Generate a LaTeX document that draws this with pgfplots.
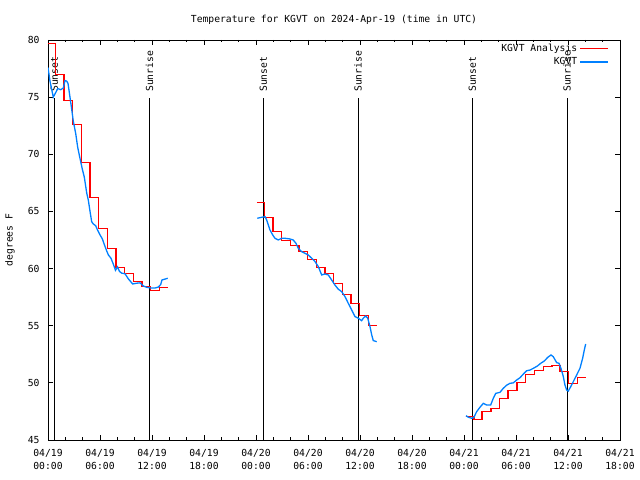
\documentclass[border=0pt]{standalone}
\usepackage{pgfplots}
\pgfplotsset{compat=1.18}
\usepackage{fontspec}
\setmainfont{DejaVu Sans Mono}
\definecolor{obsblue}{RGB}{0,128,255}
\definecolor{anared}{RGB}{255,0,0}
\begin{document}
\fontsize{9.7bp}{13bp}\selectfont
\begin{tikzpicture}
\path[use as bounding box] (0,0) rectangle (640bp,480bp);
\begin{axis}[
  at={(48bp,40bp)}, anchor=south west,
  scale only axis, width=572bp, height=400bp,
  xmin=0, xmax=66, ymin=45, ymax=80,
  xtick={0,6,...,66},
  xticklabels={{04/19\\00:00},{04/19\\06:00},{04/19\\12:00},{04/19\\18:00},{04/20\\00:00},{04/20\\06:00},{04/20\\12:00},{04/20\\18:00},{04/21\\00:00},{04/21\\06:00},{04/21\\12:00},{04/21\\18:00}},
  minor x tick num=2,
  ytick={45,50,...,80},
  tick align=inside,
  major tick length=5bp, minor tick length=2.5bp,
  tick style={black, line width=0.8bp},
  axis line style={line width=0.8bp},
  xticklabel style={align=center, yshift=-6bp},
  yticklabel style={xshift=-5bp},
  /pgf/number format/assume math mode=true,
  title={Temperature for KGVT on 2024-Apr-19 (time in UTC)},
  title style={at={(axis description cs:0.5,1)}, anchor=base, yshift=12bp},
  ylabel={degrees F},
  ylabel style={at={(axis description cs:-0.0664,0.5)}, anchor=center},
  legend cell align=right,
  legend plot pos=right,
  legend image code/.code={\draw[#1, line width=1.6bp] (0bp,0bp) -- (28bp,0bp);},
  legend style={draw=none, fill=none, at={(axis description cs:1,1)}, anchor=north east,
    xshift=-8bp, yshift=0bp, row sep=0.5bp, nodes={inner sep=2bp}},
]
% sunrise / sunset lines
\addplot[black, line width=0.9bp, forget plot] coordinates {(0.73,45) (0.73,74.93)};
\addplot[black, line width=0.9bp, forget plot] coordinates {(11.72,45) (11.72,74.93)};
\addplot[black, line width=0.9bp, forget plot] coordinates {(24.85,45) (24.85,74.93)};
\addplot[black, line width=0.9bp, forget plot] coordinates {(35.78,45) (35.78,74.93)};
\addplot[black, line width=0.9bp, forget plot] coordinates {(48.95,45) (48.95,74.93)};
\addplot[black, line width=0.9bp, forget plot] coordinates {(59.9,45) (59.9,74.93)};
\node[rotate=90, anchor=west, inner sep=0pt] at (axis cs:0.73,75.45) {Sunset};
\node[rotate=90, anchor=west, inner sep=0pt] at (axis cs:11.72,75.45) {Sunrise};
\node[rotate=90, anchor=west, inner sep=0pt] at (axis cs:24.85,75.45) {Sunset};
\node[rotate=90, anchor=west, inner sep=0pt] at (axis cs:35.78,75.45) {Sunrise};
\node[rotate=90, anchor=west, inner sep=0pt] at (axis cs:48.95,75.45) {Sunset};
\node[rotate=90, anchor=west, inner sep=0pt] at (axis cs:59.9,75.45) {Sunrise};
% KGVT Analysis (hourly, stepped)
\addplot[anared, line width=1.4bp] coordinates {
(0,79.694) (0.85,79.694) (0.85,76.981) (1.85,76.981) (1.85,74.706) (2.85,74.706)
(2.85,72.606) (3.85,72.606) (3.85,69.281) (4.85,69.281) (4.85,66.219) (5.85,66.219)
(5.85,63.506) (6.85,63.506) (6.85,61.756) (7.85,61.756) (7.85,60.094) (8.85,60.094)
(8.85,59.569) (9.85,59.569) (9.85,58.869) (10.85,58.869) (10.85,58.431) (11.85,58.431)
(11.85,58.081) (12.85,58.081) (12.85,58.344) (13.85,58.344)};
\addlegendentry{KGVT Analysis}
% KGVT observations
\addplot[obsblue, line width=1.3bp] coordinates {
(0,77.6) (0.23,76.4) (0.61,75.0) (0.89,75.4) (1.12,75.75) (1.47,75.65) (1.77,75.8)
(1.96,76.45) (2.16,76.4) (2.31,76.2) (2.46,75.4) (2.65,74.4) (2.92,72.9) (3.2,71.8)
(3.43,70.6) (3.69,69.65) (3.96,68.7) (4.19,68.0) (4.47,66.6) (4.65,66.0) (4.85,65.0)
(5.04,64.1) (5.23,63.9) (5.5,63.75) (5.73,63.35) (6.0,62.95) (6.27,62.6) (6.5,62.1)
(6.77,61.55) (6.96,61.2) (7.27,60.9) (7.53,60.4) (7.79,59.85) (8.02,60.15) (8.25,59.75)
(8.5,59.6) (8.88,59.55) (9.27,59.1) (9.77,58.65) (10.23,58.72) (10.62,58.75) (11.0,58.48)
(11.39,58.36) (11.85,58.3) (12.35,58.3) (12.73,58.38) (13.0,58.6) (13.15,59.0)
(13.5,59.08) (13.81,59.15)};
\addlegendentry{KGVT}
\addplot[anared, line width=1.4bp, forget plot] coordinates {
(24.1,65.781) (24.95,65.781) (24.95,64.469) (25.95,64.469) (25.95,63.244) (26.95,63.244)
(26.95,62.456) (27.95,62.456) (27.95,62.019) (28.95,62.019) (28.95,61.494) (29.95,61.494)
(29.95,60.794) (30.95,60.794) (30.95,60.094) (31.95,60.094) (31.95,59.569) (32.95,59.569)
(32.95,58.694) (33.95,58.694) (33.95,57.731) (34.95,57.731) (34.95,56.944) (35.95,56.944)
(35.95,55.894) (36.95,55.894) (36.95,55.019) (37.95,55.019)};
\addplot[anared, line width=1.4bp, forget plot] coordinates {
(48.2,47.056) (49.15,47.056) (49.15,46.794) (50.1,46.794) (50.1,47.494) (51.1,47.494)
(51.1,47.756) (52.1,47.756) (52.1,48.631) (53.1,48.631) (53.1,49.331) (54.1,49.331)
(54.1,50.031) (55.1,50.031) (55.1,50.731) (56.15,50.731) (56.15,51.081) (57.2,51.081)
(57.2,51.431) (58.15,51.431) (58.15,51.519) (59.1,51.519) (59.1,50.994) (60.05,50.994)
(60.05,49.944) (61.1,49.944) (61.1,50.469) (62.05,50.469)};
\addplot[obsblue, line width=1.3bp, forget plot] coordinates {
(24.15,64.4) (24.66,64.49) (25.04,64.54) (25.23,64.25) (25.42,63.82) (25.61,63.38)
(25.93,62.94) (26.19,62.65) (26.57,62.5) (26.96,62.65) (27.35,62.65) (27.92,62.59)
(28.3,62.5) (28.61,62.21) (28.88,61.78) (29.27,61.48) (29.65,61.34) (30.03,61.19)
(30.43,60.9) (30.81,60.61) (31.19,60.17) (31.58,59.44) (31.96,59.53) (32.34,59.44)
(32.73,59.0) (33.11,58.56) (33.5,58.19) (33.89,57.98) (34.27,57.54) (34.65,56.96)
(35.04,56.38) (35.42,55.8) (35.8,55.66) (36.19,55.44) (36.38,55.66) (36.66,55.85)
(36.89,55.66) (37.15,54.93) (37.35,54.2) (37.53,53.7) (37.93,53.6)};
\addplot[obsblue, line width=1.3bp, forget plot] coordinates {
(48.23,47.13) (48.5,46.99) (48.89,46.9) (49.15,46.99) (49.46,47.48) (49.84,47.86)
(50.23,48.21) (50.62,48.06) (51.08,48.06) (51.38,48.65) (51.66,49.08) (52.15,49.17)
(52.53,49.52) (52.93,49.8) (53.31,49.96) (53.69,50.0) (54.08,50.25) (54.46,50.45)
(54.92,50.83) (55.23,51.06) (55.61,51.12) (56.0,51.27) (56.46,51.47) (56.85,51.71)
(57.26,51.91) (57.66,52.23) (58.04,52.44) (58.3,52.29) (58.69,51.77) (58.96,51.71)
(59.19,51.27) (59.46,50.55) (59.65,49.8) (59.85,49.37) (60.03,49.28) (60.31,49.66)
(60.61,50.1) (61.0,50.69) (61.38,51.27) (61.69,52.15) (61.88,52.87) (62.04,53.4)};
\end{axis}
\end{tikzpicture}
\end{document}
